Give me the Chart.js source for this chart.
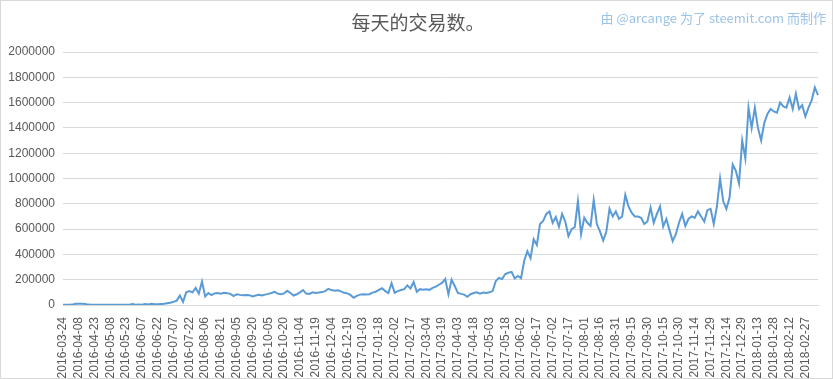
<!DOCTYPE html>
<html>
<head>
<meta charset="utf-8">
<script src="https://cdn.jsdelivr.net/npm/chart.js@4"></script>
<style>
  html, body { margin: 0; padding: 0; background: #fff; }
  #wrap { width: 833px; height: 379px; }
</style>
</head>
<body>
<div id="wrap"><canvas id="txChart" width="833" height="379"></canvas></div>
<script>
// one point every 3 days from 2016-03-24
const startDate = '2016-03-24';
const stepDays = 3;

const tickLabels = [
  '2016-03-24','2016-04-08','2016-04-23','2016-05-08','2016-05-23','2016-06-07','2016-06-22','2016-07-07',
  '2016-07-22','2016-08-06','2016-08-21','2016-09-05','2016-09-20','2016-10-05','2016-10-20','2016-11-04',
  '2016-11-19','2016-12-04','2016-12-19','2017-01-03','2017-01-18','2017-02-02','2017-02-17','2017-03-04',
  '2017-03-19','2017-04-03','2017-04-18','2017-05-03','2017-05-18','2017-06-02','2017-06-17','2017-07-02',
  '2017-07-17','2017-08-01','2017-08-16','2017-08-31','2017-09-15','2017-09-30','2017-10-15','2017-10-30',
  '2017-11-14','2017-11-29','2017-12-14','2017-12-29','2018-01-13','2018-01-28','2018-02-12','2018-02-27'
];

// daily transactions
const transactions = [
  2000, 1500, 2000, 3000, 9000, 10000, 9000, 8000, 3000, 1500,
  1000, 1500, 1000, 1500, 1000, 1500, 1000, 1500, 2000, 1500,
  2000, 2500, 7000, 2000, 3000, 2500, 8000, 4000, 9000, 6000,
  5000, 8000, 10000, 14000, 18000, 25000, 35000, 75000, 25000, 100000,
  110000, 100000, 135000, 90000, 185000, 68000, 95000, 78000, 92000, 95000,
  90000, 96000, 92000, 88000, 70000, 85000, 80000, 78000, 80000, 78000,
  68000, 75000, 80000, 75000, 82000, 88000, 95000, 104000, 90000, 86000,
  92000, 112000, 95000, 75000, 85000, 100000, 118000, 90000, 88000, 100000,
  95000, 98000, 102000, 110000, 128000, 118000, 112000, 116000, 108000, 96000,
  92000, 80000, 58000, 72000, 82000, 85000, 83000, 85000, 98000, 105000,
  120000, 132000, 110000, 95000, 172000, 96000, 110000, 118000, 125000, 155000,
  130000, 182000, 105000, 125000, 120000, 125000, 120000, 135000, 145000, 160000,
  175000, 205000, 85000, 200000, 150000, 95000, 88000, 82000, 65000, 85000,
  95000, 100000, 90000, 98000, 95000, 100000, 110000, 190000, 215000, 205000,
  245000, 255000, 262000, 210000, 230000, 212000, 350000, 425000, 370000, 520000,
  475000, 640000, 665000, 720000, 740000, 650000, 695000, 620000, 720000, 660000,
  545000, 600000, 615000, 820000, 560000, 690000, 650000, 625000, 830000, 640000,
  580000, 510000, 580000, 760000, 700000, 740000, 680000, 700000, 870000, 780000,
  730000, 700000, 700000, 690000, 640000, 660000, 770000, 650000, 720000, 780000,
  620000, 680000, 590000, 505000, 560000, 650000, 720000, 625000, 680000, 700000,
  690000, 740000, 700000, 660000, 750000, 760000, 640000, 780000, 1000000, 820000,
  760000, 850000, 1110000, 1060000, 960000, 1300000, 1160000, 1560000, 1400000, 1560000,
  1400000, 1300000, 1440000, 1510000, 1550000, 1530000, 1520000, 1600000, 1570000, 1560000,
  1640000, 1550000, 1670000, 1550000, 1580000, 1490000, 1560000, 1620000, 1720000, 1660000
];

const categories = [];
const d0 = new Date(startDate + 'T00:00:00Z');
for (let i = 0; i < transactions.length; i++) {
  const d = new Date(d0.getTime() + i * stepDays * 86400000);
  categories.push(d.toISOString().slice(0, 10));
}

const textColor = '#595959';
const gridColor = '#d9d9d9';
const font = { family: "'Liberation Sans', Arial, sans-serif", size: 12 };

// title, credit text and outer border
const decorations = {
  id: 'decorations',
  afterDraw(chart) {
    const ctx = chart.ctx;
    ctx.save();
    ctx.textBaseline = 'middle';
    ctx.fillStyle = textColor;
    ctx.font = "19px 'Noto Sans CJK SC', sans-serif";
    ctx.textAlign = 'center';
    ctx.fillText('每天的交易数。', 418, 23);
    ctx.fillStyle = '#9dc3e6';
    ctx.font = "13px 'Noto Sans CJK SC', sans-serif";
    ctx.textAlign = 'right';
    ctx.fillText('由 @arcange 为了 steemit.com 而制作', 826, 18);
    ctx.strokeStyle = gridColor;
    ctx.lineWidth = 1;
    ctx.strokeRect(0.5, 0.5, 832, 378);
    ctx.restore();
  }
};

new Chart(document.getElementById('txChart'), {
  type: 'line',
  data: {
    labels: categories,
    datasets: [{
      label: 'transactions',
      data: transactions,
      borderColor: '#5b9bd5',
      borderWidth: 2,
      pointRadius: 0,
      tension: 0,
      fill: false
    }]
  },
  options: {
    responsive: false,
    animation: false,
    layout: { padding: { top: 52, right: 15, bottom: 0, left: 0 } },
    plugins: {
      legend: { display: false },
      tooltip: { enabled: false }
    },
    scales: {
      x: {
        offset: false,
        grid: { display: false },
        border: { color: gridColor },
        ticks: {
          autoSkip: false,
          minRotation: 90,
          maxRotation: 90,
          padding: 4,
          color: textColor,
          font: font,
          callback: (v, i) => (i % 5 === 0 ? tickLabels[i / 5] : null)
        },
        afterFit: (scale) => { scale.height = 74; }
      },
      y: {
        min: 0,
        max: 2000000,
        grid: { color: gridColor, drawTicks: false },
        border: { display: false },
        ticks: {
          stepSize: 200000,
          padding: 8,
          color: textColor,
          font: font,
          callback: (v) => String(v)
        },
        afterFit: (scale) => { scale.width = 63; }
      }
    }
  },
  plugins: [decorations]
});
</script>
</body>
</html>
